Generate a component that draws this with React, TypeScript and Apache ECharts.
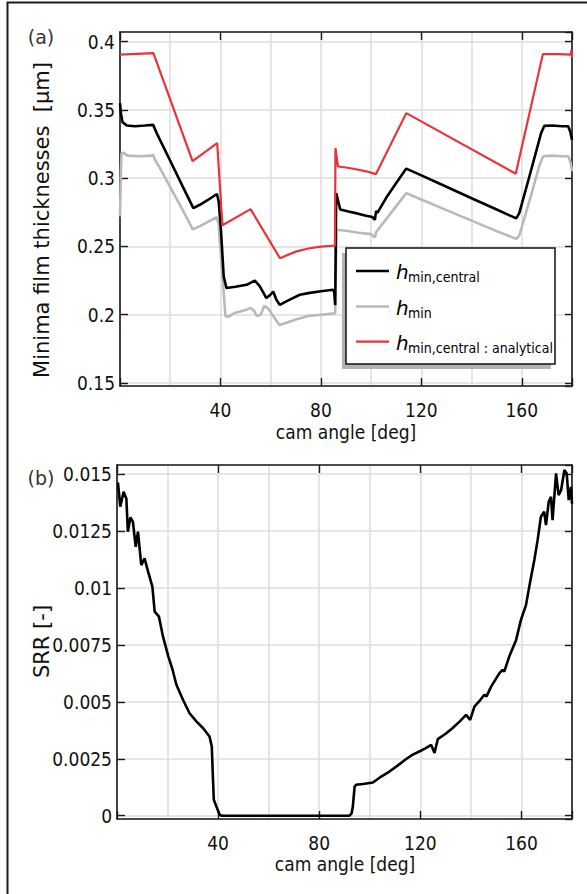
import React, { useEffect, useRef } from 'react';
import * as echarts from 'echarts';

// ---- data (cam angle [deg], value) ----
const hCentral: [number, number][] = [
  [0, 0.355], [0.4, 0.347], [1.0, 0.341], [2.7, 0.3385], [6, 0.338], [10, 0.3385], [13.2, 0.339],
  [14.6, 0.333], [20, 0.3127], [25, 0.2938], [29.2, 0.278], [31.8, 0.2805], [35, 0.284], [38.6, 0.2884],
  [39.3, 0.283], [40.2, 0.262], [41.3, 0.228], [42.4, 0.2195], [46, 0.2205], [50.4, 0.2219], [53.7, 0.225],
  [55.7, 0.2207], [58.3, 0.2122], [59.9, 0.2146], [61, 0.217], [62.3, 0.2109], [63.6, 0.2072], [67.6, 0.211],
  [71.6, 0.2146], [75.6, 0.216], [80, 0.2172], [84.8, 0.2183], [85.3, 0.2165], [85.7, 0.207], [86.1, 0.289],
  [87.7, 0.277], [91, 0.2755], [94.8, 0.274], [98, 0.2725], [100.5, 0.2715], [101.5, 0.2695], [102.0, 0.276],
  [102.5, 0.2745], [106, 0.2856], [110, 0.2965], [114, 0.307], [120, 0.302], [130, 0.2937], [140, 0.2853],
  [150, 0.277], [157.8, 0.2705], [159, 0.2744], [163, 0.301], [167.7, 0.333], [169, 0.3383], [172, 0.3385],
  [176, 0.338], [178.5, 0.338], [179.3, 0.334], [180, 0.328],
];

const hMin: [number, number][] = [
  [0, 0.272], [0.3, 0.3], [0.6, 0.318], [1.5, 0.3185], [3, 0.3165], [8, 0.316], [12.5, 0.3165], [13.2, 0.317],
  [13.8, 0.314], [16, 0.307], [20, 0.2935], [25, 0.2765], [29, 0.2625], [32, 0.265], [35, 0.268], [38.5, 0.2715],
  [39.3, 0.266], [40.5, 0.235], [42, 0.199], [43, 0.1985], [46, 0.2015], [50, 0.2035], [52, 0.205], [53.5, 0.2025],
  [54.5, 0.199], [56, 0.2], [57.5, 0.2065], [59, 0.2045], [61, 0.199], [63.5, 0.1925], [66, 0.194], [70, 0.1965],
  [75, 0.199], [80, 0.2], [85.3, 0.201], [85.7, 0.2015], [86.2, 0.262], [87, 0.262], [90, 0.2615], [95, 0.26],
  [100, 0.259], [101.5, 0.2565], [102, 0.2605], [106, 0.27], [110, 0.2795], [114, 0.289], [120, 0.2844],
  [130, 0.2766], [140, 0.2689], [150, 0.2612], [157.8, 0.2555], [159, 0.258], [163, 0.283], [167, 0.309],
  [168.5, 0.316], [172, 0.3165], [176, 0.316], [178.5, 0.316], [179.5, 0.311], [180, 0.305],
];

const hAnalytical: [number, number][] = [
  [0, 0.3905], [13.3, 0.3915], [28.9, 0.3124], [38.7, 0.3256], [40.8, 0.2655], [52, 0.2773], [63.7, 0.2414],
  [70, 0.2462], [75, 0.2485], [80, 0.2498], [84.8, 0.2505], [85.6, 0.2505], [85.8, 0.322], [86.8, 0.3085],
  [90, 0.3078], [94, 0.3065], [98, 0.305], [101.9, 0.3029], [114, 0.3476], [157.6, 0.3032], [168.4, 0.3908],
  [175, 0.3908], [179.5, 0.3905], [179.8, 0.394], [180, 0.388],
];

const srr: [number, number][] = [
  [0, 0.0146], [0.4, 0.0146], [1.3, 0.01357], [2.6, 0.01422], [3.7, 0.01393], [4.3, 0.01247], [5.3, 0.0131],
  [6.3, 0.0129], [7.4, 0.01181], [8.3, 0.01247], [9.6, 0.011], [10.9, 0.0113], [12.3, 0.01072], [14, 0.01006],
  [14.9, 0.00896], [16.6, 0.00874], [18.2, 0.00786], [20.3, 0.007], [22, 0.0064], [23.5, 0.00575],
  [26.1, 0.00509], [28.7, 0.0045], [31.4, 0.00414], [34, 0.00385], [36.6, 0.00348], [37.5, 0.00304],
  [37.9, 0.0018], [38.3, 0.0007], [39.3, 0.00041], [40.6, 0.00004], [41.5, 0], [60, 0], [80, 0], [92, 0],
  [92.8, 0.0001], [93.3, 0.0004], [94, 0.00128], [94.6, 0.00136], [98, 0.0014], [101.2, 0.00146],
  [104, 0.00168], [107.8, 0.00194], [111, 0.0022], [114.4, 0.00249], [117, 0.00268], [119.6, 0.00282],
  [122, 0.00296], [124.3, 0.00311], [125.6, 0.00275], [126.9, 0.00336], [130, 0.0036], [132.8, 0.00385],
  [135.5, 0.00413], [138.1, 0.00443], [139.7, 0.00421], [141.4, 0.00479], [143.5, 0.00505], [145.3, 0.00531],
  [146.2, 0.00524], [148, 0.00567], [151.3, 0.00626], [152.5, 0.0064], [153.2, 0.00633], [155.2, 0.007],
  [157.9, 0.00772], [159.8, 0.0086], [161.8, 0.00925], [163.1, 0.01006], [165.1, 0.01123], [166.4, 0.0121],
  [167.7, 0.01313], [169, 0.01335], [169.7, 0.01276], [170.8, 0.01379], [171.7, 0.014], [172.3, 0.01298],
  [173.7, 0.01503], [174.7, 0.01408], [175.7, 0.0143], [177, 0.01518], [177.9, 0.01503], [178.7, 0.01386],
  [179.6, 0.01444], [180, 0.0137],
];

const xLabeledTicks = [40, 80, 120, 160];
const yStepTop = 0.05;
const yStepBottom = 0.0025;

const legendNames = ['min,central', 'min', 'min,central : analytical'];
const legendColors = ['#000000', '#b9b9b9', '#e8333b'];
const legendWidths = [2.6, 2.6, 2.2];

const FONT_C = "'DejaVu Sans Condensed', 'DejaVu Sans', sans-serif";
const FONT_R = "'DejaVu Sans', sans-serif";
const AXIS_COLOR = '#1a1a1a';
const GRID_COLOR = '#dddddd';

function stepFormatter(step: number) {
  return (v: number) => {
    const r = Math.round(v / step);
    if (Math.abs(v - r * step) > step * 1e-4) return '';
    return String(+(r * step).toFixed(6));
  };
}

export default function App() {
  const ref = useRef<HTMLDivElement>(null);

  useEffect(() => {
    const chart = echarts.init(ref.current as HTMLDivElement, null, { renderer: 'svg' });

    const grids = [
      { left: 120, top: 32, width: 452, height: 354 },
      { left: 117, top: 465, width: 455, height: 354 },
    ];
    const yRanges = [
      { min: 0.1478, max: 0.407, step: yStepTop, split: 5 },
      { min: -0.000145, max: 0.0154, step: yStepBottom, split: 6 },
    ];

    const lineStyle = { color: AXIS_COLOR, width: 1.6 };
    const tickStyle = { color: AXIS_COLOR, width: 1.4 };
    const xAxes: any[] = [];
    const yAxes: any[] = [];
    grids.forEach((_, gi) => {
      // main bottom axis: ticks + labels
      xAxes.push({
        type: 'value', gridIndex: gi, min: 0, max: 180, interval: 40, position: 'bottom',
        axisLine: { show: true, onZero: false, lineStyle },
        axisTick: { show: true, inside: true, length: 8, lineStyle: tickStyle },
        axisLabel: {
          show: true, margin: 14, fontSize: 19, fontFamily: FONT_C, color: '#111',
          formatter: (v: number) => (xLabeledTicks.includes(v) ? String(v) : ''),
        },
        splitLine: { show: false },
      });
      // top axis: box line + inward ticks
      xAxes.push({
        type: 'value', gridIndex: gi, min: 0, max: 180, interval: 40, position: 'top',
        axisLine: { show: true, onZero: false, lineStyle },
        axisTick: { show: true, inside: true, length: 8, lineStyle: tickStyle },
        axisLabel: { show: false },
        splitLine: { show: false },
      });
      // grid lines every 20 deg
      xAxes.push({
        type: 'value', gridIndex: gi, min: 0, max: 180, interval: 20, position: 'bottom',
        axisLine: { show: false }, axisTick: { show: false }, axisLabel: { show: false },
        splitLine: { show: true, lineStyle: { color: GRID_COLOR, width: 1.5 } },
      });
      const yr = yRanges[gi];
      yAxes.push({
        type: 'value', gridIndex: gi, min: yr.min, max: yr.max, splitNumber: yr.split,
        minInterval: yr.step, maxInterval: yr.step, position: 'left',
        axisLine: { show: true, onZero: false, lineStyle },
        axisTick: { show: true, inside: true, length: 8, lineStyle: tickStyle },
        axisLabel: {
          show: true, margin: 5, fontSize: 19, fontFamily: FONT_C, color: '#111',
          showMinLabel: false, showMaxLabel: false, formatter: stepFormatter(yr.step),
        },
        splitLine: { show: true, lineStyle: { color: GRID_COLOR, width: 1.5 } },
      });
      yAxes.push({
        type: 'value', gridIndex: gi, min: yr.min, max: yr.max, splitNumber: yr.split,
        minInterval: yr.step, maxInterval: yr.step, position: 'right',
        axisLine: { show: true, onZero: false, lineStyle },
        axisTick: { show: true, inside: true, length: 7, lineStyle: tickStyle },
        axisLabel: { show: false },
        splitLine: { show: false },
      });
    });

    const rowY = [271, 306.5, 341.7];
    const legendEls: any[] = [
      { type: 'rect', shape: { x: 342, y: 253, width: 209, height: 116 }, style: { fill: '#b3b3b3' }, z: 100 },
      { type: 'rect', shape: { x: 346, y: 248, width: 209, height: 116 }, style: { fill: '#fff', stroke: '#111', lineWidth: 1.5 }, z: 101 },
    ];
    legendNames.forEach((name, i) => {
      const y = rowY[i];
      legendEls.push({
        type: 'line', shape: { x1: 356, y1: y, x2: 389, y2: y },
        style: { stroke: legendColors[i], lineWidth: legendWidths[i] }, z: 102,
      });
      legendEls.push({
        type: 'text', x: 396, y: y + 1,
        style: { text: 'h', font: `italic 20px ${FONT_R}`, fill: '#000', align: 'left', verticalAlign: 'middle' }, z: 102,
      });
      legendEls.push({
        type: 'text', x: 408, y: y + 6,
        style: { text: name, font: `14px ${FONT_C}`, fill: '#000', align: 'left', verticalAlign: 'middle' }, z: 102,
      });
    });

    const option: any = {
      animation: false,
      grid: grids.map((g) => ({ ...g, containLabel: false })),
      xAxis: xAxes,
      yAxis: yAxes,
      series: [
        { name: 'h_min', type: 'line', xAxisIndex: 0, yAxisIndex: 0, data: hMin, symbol: 'none', lineStyle: { color: '#b9b9b9', width: 2.6 }, z: 3 },
        { name: 'h_min,central', type: 'line', xAxisIndex: 0, yAxisIndex: 0, data: hCentral, symbol: 'none', lineStyle: { color: '#000', width: 2.6 }, z: 4 },
        { name: 'h_min,central : analytical', type: 'line', xAxisIndex: 0, yAxisIndex: 0, data: hAnalytical, symbol: 'none', lineStyle: { color: '#e8333b', width: 2.2 }, z: 5 },
        { name: 'SRR', type: 'line', xAxisIndex: 3, yAxisIndex: 2, data: srr, symbol: 'none', lineStyle: { color: '#000', width: 2.6 }, z: 4 },
      ],
      graphic: [
        { type: 'rect', shape: { x: 7.5, y: 2.5, width: 800, height: 1000 }, style: { fill: 'none', stroke: '#1a1a1a', lineWidth: 2 }, z: 50 },
        { type: 'text', x: 41, y: 36.5, style: { text: '(a)', font: `19px ${FONT_R}`, fill: '#333', align: 'center', verticalAlign: 'middle' }, z: 50 },
        { type: 'text', x: 41, y: 478, style: { text: '(b)', font: `19px ${FONT_R}`, fill: '#333', align: 'center', verticalAlign: 'middle' }, z: 50 },
        { type: 'text', x: 346, y: 432, style: { text: 'cam angle [deg]', font: `19px ${FONT_C}`, fill: '#111', align: 'center', verticalAlign: 'middle' }, z: 50 },
        { type: 'text', x: 345, y: 864, style: { text: 'cam angle [deg]', font: `19px ${FONT_C}`, fill: '#111', align: 'center', verticalAlign: 'middle' }, z: 50 },
        { type: 'text', x: 42, y: 220, rotation: Math.PI / 2, style: { text: 'Minima film thicknesses  [μm]', font: `21px ${FONT_R}`, fill: '#111', align: 'center', verticalAlign: 'middle' }, z: 50 },
        { type: 'text', x: 42, y: 641.5, rotation: Math.PI / 2, style: { text: 'SRR [-]', font: `21px ${FONT_R}`, fill: '#111', align: 'center', verticalAlign: 'middle' }, z: 50 },
        ...legendEls,
      ],
    };

    chart.setOption(option);
    return () => chart.dispose();
  }, []);

  return <div ref={ref} style={{ position: 'absolute', left: 0, top: 0, width: 587, height: 894 }} />;
}
